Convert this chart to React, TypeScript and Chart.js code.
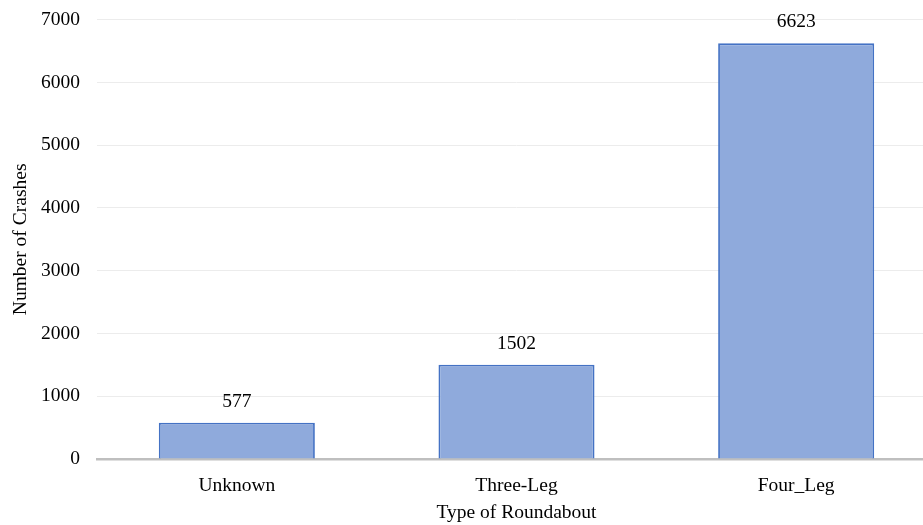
import React, { useEffect, useRef } from "react";
import { Chart, registerables } from "chart.js";

Chart.register(...registerables);

const categories = ["Unknown", "Three-Leg", "Four_Leg"];
const crashes = [577, 1502, 6623];
const yTicks = [0, 1000, 2000, 3000, 4000, 5000, 6000, 7000];

const FONT = "'Liberation Serif', 'Times New Roman', serif";

const dataLabels = {
  id: "dataLabels",
  afterDatasetsDraw(chart: any) {
    const ctx = chart.ctx;
    const meta = chart.getDatasetMeta(0);
    ctx.save();
    ctx.font = `19.5px ${FONT}`;
    ctx.fillStyle = "#000000";
    ctx.textAlign = "center";
    ctx.textBaseline = "middle";
    meta.data.forEach((bar: any, i: number) => {
      ctx.fillText(String(crashes[i]), bar.x, bar.y - 21);
    });
    ctx.restore();
  },
};

export default function App() {
  const ref = useRef<HTMLCanvasElement>(null);
  useEffect(() => {
    document.body.style.margin = "0";
    const chart = new Chart(ref.current!, {
      type: "bar",
      data: {
        labels: categories,
        datasets: [
          {
            data: crashes,
            backgroundColor: "#8FAADC",
            borderColor: "#4472C4",
            borderWidth: 1.8,
            categoryPercentage: 1,
            barPercentage: 0.558,
          },
        ],
      },
      options: {
        animation: false,
        responsive: false,
        devicePixelRatio: 1,
        layout: { padding: { top: 0, right: 0, left: 0, bottom: 0 } },
        plugins: { legend: { display: false }, tooltip: { enabled: false } },
        scales: {
          x: {
            grid: { display: false, drawTicks: false },
            border: { display: true, color: "#BFBFBF", width: 2.5 },
            ticks: { color: "#000", font: { family: FONT, size: 19.5 }, padding: 15 },
            title: {
              display: true,
              text: "Type of Roundabout",
              color: "#000",
              font: { family: FONT, size: 19.5 },
              padding: { top: 5, bottom: 0 },
            },
            afterFit(scale: any) {
              scale.height = 66;
            },
          },
          y: {
            min: 0,
            max: 7000,
            afterBuildTicks(scale: any) {
              scale.ticks = yTicks.map((v) => ({ value: v }));
            },
            grid: { color: "#ECECEC", lineWidth: 1, drawTicks: false },
            border: { display: false },
            ticks: {
              color: "#000",
              font: { family: FONT, size: 19.5 },
              padding: 17,
              callback: (v: any) => String(v),
            },
            title: {
              display: true,
              text: "Number of Crashes",
              color: "#000",
              font: { family: FONT, size: 19.5 },
              padding: { top: 9, bottom: 0 },
            },
            afterFit(scale: any) {
              scale.width = 97;
            },
          },
        },
      },
      plugins: [dataLabels],
    });
    return () => chart.destroy();
  }, []);
  return (
    <div style={{ width: 923, height: 525, overflow: "hidden" }}>
      <canvas
        ref={ref}
        width={936}
        height={534}
        style={{ display: "block", marginTop: -9 }}
      />
    </div>
  );
}
